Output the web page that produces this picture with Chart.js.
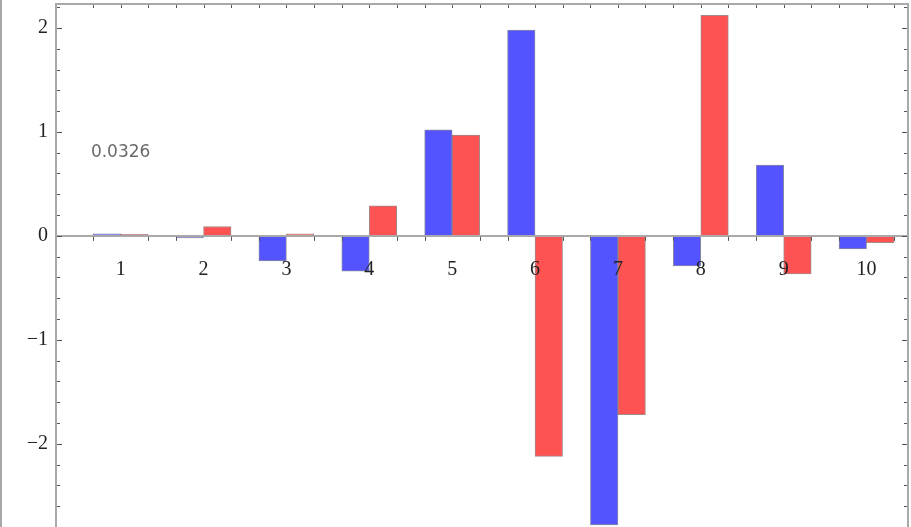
<!DOCTYPE html>
<html>
<head>
<meta charset="utf-8">
<script src="https://cdn.jsdelivr.net/npm/chart.js@4/dist/chart.umd.min.js"></script>
<style>
  html, body { margin: 0; padding: 0; background: #fff; }
  canvas { display: block; }
</style>
</head>
<body>
<canvas id="c" width="911" height="527"></canvas>
<script>
// Category positions along the horizontal axis
const categories = [1, 2, 3, 4, 5, 6, 7, 8, 9, 10];
// First series (blue bars)
const blueValues = [0.02, -0.02, -0.24, -0.34, 1.02, 1.98, -2.78, -0.29, 0.68, -0.125];
// Second series (red bars)
const redValues = [0.015, 0.09, 0.02, 0.29, 0.97, -2.12, -1.72, 2.12, -0.365, -0.065];
// Annotation drawn inside the frame
const noteText = '0.0326';
const notePos = [1, 0.8];

const BAR_W = 27.5;
const FRAME = '#a9a9a9';
const SERIF = '"Liberation Serif", "Times New Roman", serif';

const isWhole = v => Math.abs(v - Math.round(v)) < 1e-6;
const fmt = v => {
  if (!isWhole(v)) return '';
  const r = Math.round(v);
  return r < 0 ? '\u2212' + Math.abs(r) : String(r);
};
// Keep the frame flush with the canvas edges
const noPad = s => { s.paddingTop = 0; s.paddingBottom = 0; s.paddingLeft = 0; s.paddingRight = 0; };

// Inward frame ticks, axis ticks at bar edges, and the text note
const frameDecor = {
  id: 'frameDecor',
  beforeDraw(chart) {
    const { ctx, height } = chart;
    ctx.save();
    ctx.strokeStyle = FRAME;
    ctx.lineWidth = 2;
    ctx.beginPath();
    ctx.moveTo(1, 0);
    ctx.lineTo(1, height);
    ctx.stroke();
    ctx.restore();
  },
  afterDraw(chart) {
    const { ctx, chartArea: a, scales: { x, y } } = chart;
    ctx.save();
    ctx.strokeStyle = '#555';
    ctx.lineWidth = 1;
    ctx.beginPath();
    y.ticks.forEach(t => {
      const py = Math.round(y.getPixelForValue(t.value)) + 0.5;
      const len = isWhole(t.value) ? 5 : 3;
      ctx.moveTo(a.left + 1, py); ctx.lineTo(a.left + 1 + len, py);
      ctx.moveTo(a.right - 1, py); ctx.lineTo(a.right - 1 - len, py);
    });
    const y0 = y.getPixelForValue(0);
    categories.forEach(c => {
      const px = x.getPixelForValue(c);
      [px - BAR_W, px, px + BAR_W].forEach(e => {
        const ex = Math.round(e) + 0.5;
        ctx.moveTo(ex, a.top + 1); ctx.lineTo(ex, a.top + 4);
      });
      [px - BAR_W, px + BAR_W].forEach(e => {
        const ex = Math.round(e) + 0.5;
        ctx.moveTo(ex, y0 + 1); ctx.lineTo(ex, y0 + 5);
      });
    });
    ctx.stroke();

    ctx.fillStyle = '#6a6a6a';
    ctx.font = '17px "DejaVu Sans", sans-serif';
    ctx.textAlign = 'center';
    ctx.textBaseline = 'middle';
    ctx.fillText(noteText, x.getPixelForValue(notePos[0]), y.getPixelForValue(notePos[1]));
    ctx.restore();
  }
};

const toPoints = vals => categories.map((c, i) => ({ x: c, y: vals[i] }));

new Chart(document.getElementById('c'), {
  type: 'bar',
  data: {
    datasets: [
      {
        data: toPoints(blueValues),
        backgroundColor: '#5353ff',
        borderColor: 'rgba(40,40,90,0.55)',
        borderWidth: 1,
        borderSkipped: false,
        barThickness: BAR_W
      },
      {
        data: toPoints(redValues),
        backgroundColor: '#ff5353',
        borderColor: 'rgba(90,40,40,0.55)',
        borderWidth: 1,
        borderSkipped: false,
        barThickness: BAR_W
      }
    ]
  },
  options: {
    responsive: false,
    devicePixelRatio: 1,
    animation: false,
    layout: { padding: 0 },
    plugins: { legend: { display: false }, tooltip: { enabled: false } },
    scales: {
      x: {
        type: 'linear',
        position: { y: 0 },
        min: 0.22,
        max: 10.5,
        offset: false,
        grid: { display: false, drawTicks: false, offset: false },
        border: { display: true, color: FRAME, width: 2, z: 1 },
        ticks: {
          stepSize: 1,
          includeBounds: false,
          autoSkip: false,
          maxRotation: 0,
          padding: 22,
          color: '#222',
          z: 1,
          font: { family: SERIF, size: 20 }
        },
        afterFit: noPad
      },
      xTop: {
        type: 'linear',
        position: 'top',
        min: 0.22,
        max: 10.5,
        offset: false,
        grid: { display: false, drawTicks: false, offset: false },
        border: { display: true, color: FRAME, width: 2 },
        ticks: { display: false },
        afterFit(s) { s.height = 4; noPad(s); }
      },
      y: {
        type: 'linear',
        position: 'left',
        min: -2.8,
        max: 2.23,
        grid: { display: false, drawTicks: false },
        border: { display: true, color: FRAME, width: 2 },
        ticks: {
          stepSize: 0.2,
          includeBounds: false,
          autoSkip: false,
          padding: 8,
          color: '#222',
          font: { family: SERIF, size: 20 },
          callback: v => fmt(v)
        },
        afterFit(s) { s.width = 56; noPad(s); }
      },
      yRight: {
        type: 'linear',
        position: 'right',
        min: -2.8,
        max: 2.23,
        grid: { display: false, drawTicks: false },
        border: { display: true, color: FRAME, width: 2 },
        ticks: { display: false },
        afterFit(s) { s.width = 3; noPad(s); }
      }
    }
  },
  plugins: [frameDecor]
});
</script>
</body>
</html>
